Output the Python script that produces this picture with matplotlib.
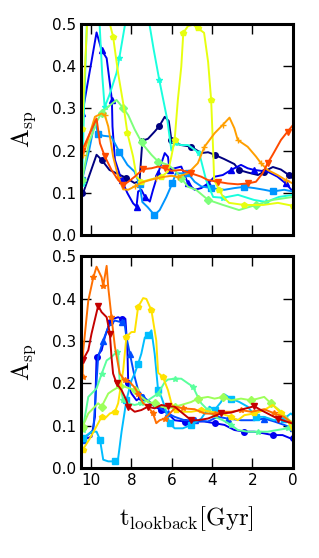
import matplotlib
matplotlib.use('Agg')
import matplotlib.pyplot as plt

plt.rcParams['mathtext.fontset'] = 'cm'

# ---- top panel data (lookback time in Gyr, A_sp) ----
top_t = [
    [10.45, 10.39, 9.73, 9.48, 9.09, 8.74, 8.25, 7.85, 7.6, 7.46, 7.18, 6.85, 6.62, 6.35, 6.15, 6.02, 5.86, 5.53, 5.04, 4.54, 4.2, 3.88, 3.41, 2.90, 2.67, 2.24, 1.73, 1.42, 0.99, 0.59, 0.2, 0.0],
    [10.45, 10.39, 9.73, 9.48, 9.23, 9.07, 8.97, 8.94, 8.82, 8.49, 8.20, 7.92, 7.75, 7.67, 7.51, 7.34, 7.09, 6.93, 6.68, 6.35, 6.19, 6.11, 5.86, 5.53, 5.20, 4.87, 4.54, 4.21, 3.88, 3.47, 3.06, 2.57, 2.24, 1.91, 1.25, 0.76, 0.35, 0.0],
    [10.45, 10.1, 9.81, 9.66, 9.4, 9.0, 8.6, 8.2, 7.85, 7.6, 7.46, 7.2, 6.86, 6.6, 6.27, 5.97, 5.8, 5.53, 5.2, 4.87, 4.54, 4.05, 3.39, 2.90, 2.40, 1.91, 1.42, 1.00, 0.43, 0.0],
    [10.45, 10.35, 10.2, 9.9, 9.58, 9.45, 9.33, 9.09, 8.74, 8.6, 8.35, 8.1, 7.6, 7.11, 6.9, 6.62, 6.22, 6.02, 5.86, 5.53, 5.19, 4.64, 4.3, 3.95, 3.46, 2.72, 1.93, 1.33, 0.69, 0.0],
    [10.45, 10.1, 9.7, 9.48, 9.0, 8.74, 8.4, 8.16, 7.84, 7.5, 7.34, 7.01, 6.68, 6.19, 5.86, 5.53, 5.19, 4.8, 4.2, 3.46, 2.67, 1.83, 0.99, 0.0],
    [10.45, 10.35, 10.2, 9.9, 9.4, 9.07, 8.91, 8.66, 8.41, 8.2, 7.92, 7.75, 7.51, 7.18, 6.85, 6.52, 6.19, 6.02, 5.86, 5.70, 5.53, 5.43, 5.2, 4.94, 4.7, 4.4, 4.2, 4.05, 3.95, 3.9, 3.65, 3.46, 3.16, 2.42, 1.48, 0.74, 0.0],
    [10.39, 9.81, 9.48, 9.32, 9.15, 8.91, 8.66, 8.41, 8.16, 7.84, 7.51, 7.09, 6.77, 6.35, 6.02, 5.70, 5.20, 4.71, 4.38, 4.13, 3.88, 3.47, 3.14, 2.90, 2.73, 2.24, 1.83, 1.58, 1.25, 0.76, 0.35, 0.0],
    [10.45, 9.73, 9.56, 9.32, 8.99, 8.66, 8.41, 8.16, 7.84, 7.42, 7.01, 6.68, 6.35, 6.02, 5.53, 5.04, 4.54, 4.21, 3.72, 3.23, 2.73, 2.24, 1.83, 1.50, 1.25, 1.00, 0.59, 0.26, 0.0],
]
top_a = [
    [0.10, 0.10, 0.19, 0.178, 0.154, 0.146, 0.135, 0.123, 0.128, 0.223, 0.228, 0.245, 0.258, 0.28, 0.27, 0.225, 0.218, 0.213, 0.209, 0.194, 0.196, 0.190, 0.18, 0.168, 0.154, 0.148, 0.142, 0.150, 0.161, 0.155, 0.142, 0.134],
    [0.29, 0.30, 0.48, 0.438, 0.419, 0.359, 0.32, 0.257, 0.178, 0.130, 0.099, 0.075, 0.067, 0.103, 0.107, 0.091, 0.079, 0.107, 0.146, 0.194, 0.185, 0.154, 0.158, 0.162, 0.122, 0.107, 0.111, 0.122, 0.138, 0.142, 0.154, 0.166, 0.158, 0.154, 0.150, 0.138, 0.122, 0.103],
    [0.13, 0.20, 0.27, 0.24, 0.235, 0.233, 0.197, 0.166, 0.15, 0.12, 0.078, 0.066, 0.047, 0.059, 0.09, 0.123, 0.146, 0.146, 0.146, 0.126, 0.115, 0.111, 0.107, 0.111, 0.114, 0.111, 0.107, 0.103, 0.107, 0.103],
    [0.12, 0.30, 0.52, 0.56, 0.50, 0.38, 0.303, 0.332, 0.384, 0.42, 0.49, 0.56, 0.60, 0.50, 0.44, 0.367, 0.272, 0.20, 0.217, 0.213, 0.213, 0.194, 0.13, 0.09, 0.088, 0.095, 0.083, 0.078, 0.09, 0.095],
    [0.13, 0.22, 0.27, 0.29, 0.31, 0.32, 0.30, 0.284, 0.25, 0.22, 0.209, 0.19, 0.174, 0.166, 0.154, 0.134, 0.114, 0.107, 0.083, 0.071, 0.059, 0.071, 0.083, 0.09],
    [0.25, 0.35, 0.50, 0.58, 0.58, 0.50, 0.47, 0.383, 0.312, 0.241, 0.186, 0.138, 0.126, 0.130, 0.134, 0.138, 0.150, 0.186, 0.225, 0.32, 0.399, 0.479, 0.495, 0.498, 0.49, 0.479, 0.41, 0.32, 0.2, 0.13, 0.107, 0.09, 0.076, 0.071, 0.071, 0.076, 0.069],
    [0.19, 0.28, 0.288, 0.284, 0.257, 0.186, 0.138, 0.108, 0.107, 0.115, 0.124, 0.13, 0.134, 0.138, 0.140, 0.138, 0.146, 0.170, 0.209, 0.225, 0.241, 0.261, 0.278, 0.253, 0.225, 0.209, 0.186, 0.170, 0.154, 0.142, 0.130, 0.122],
    [0.20, 0.276, 0.217, 0.186, 0.154, 0.13, 0.118, 0.126, 0.138, 0.156, 0.158, 0.162, 0.158, 0.152, 0.154, 0.146, 0.138, 0.130, 0.126, 0.122, 0.120, 0.122, 0.126, 0.146, 0.170, 0.19, 0.225, 0.245, 0.26],
]
top_cols = [0.0, 0.1, 0.27, 0.38, 0.5, 0.63, 0.74, 0.83]
top_marks = ['o', '^', 's', '*', 'D', 'p', '+', 'v']

# ---- bottom panel data ----
bot_t = [
    [10.42, 9.98, 9.81, 9.73, 9.48, 9.32, 9.07, 8.91, 8.66, 8.49, 8.30, 8.20, 8.16, 8.00, 7.75, 7.51, 7.18, 6.85, 6.52, 6.19, 5.86, 5.37, 4.87, 4.38, 3.88, 3.39, 2.90, 2.40, 1.91, 1.42, 1.00, 0.51, 0.10, 0.0],
    [10.42, 9.89, 9.65, 9.40, 9.15, 8.82, 8.49, 8.36, 8.25, 8.08, 7.84, 7.67, 7.42, 7.09, 6.68, 6.19, 5.86, 5.37, 4.87, 4.21, 3.72, 3.23, 2.57, 1.91, 1.42, 0.92, 0.43, 0.0],
    [10.42, 9.98, 9.73, 9.56, 9.40, 9.15, 8.82, 8.66, 8.49, 8.25, 8.00, 7.84, 7.67, 7.51, 7.34, 7.18, 7.01, 6.85, 6.68, 6.52, 6.35, 6.11, 5.86, 5.45, 5.04, 4.54, 4.13, 3.88, 3.56, 3.39, 3.06, 2.65, 2.24, 1.83, 1.42, 0.92, 0.43, 0.10, 0.0],
    [10.42, 10.14, 9.73, 9.48, 9.23, 8.99, 8.74, 8.66, 8.58, 8.41, 8.16, 7.84, 7.51, 7.18, 6.93, 6.68, 6.35, 6.19, 5.86, 5.53, 5.20, 4.95, 4.71, 4.54, 4.21, 3.88, 3.47, 3.06, 2.73, 2.24, 1.74, 1.25, 0.76, 0.26, 0.0],
    [10.42, 10.14, 9.65, 9.48, 9.15, 8.91, 8.58, 8.33, 8.08, 7.84, 7.51, 7.18, 6.85, 6.52, 6.19, 5.86, 5.53, 5.04, 4.71, 4.21, 3.88, 3.47, 3.06, 2.57, 2.07, 1.74, 1.42, 1.09, 0.67, 0.26, 0.0],
    [10.42, 10.06, 9.65, 9.48, 9.32, 9.07, 8.82, 8.66, 8.41, 8.25, 8.00, 7.84, 7.67, 7.42, 7.26, 7.01, 6.77, 6.68, 6.44, 6.19, 6.02, 5.78, 5.45, 5.04, 4.54, 4.05, 3.56, 3.06, 2.73, 2.40, 1.91, 1.42, 1.00, 0.59, 0.26, 0.0],
    [10.42, 10.39, 10.14, 9.89, 9.73, 9.48, 9.40, 9.23, 9.15, 8.99, 8.82, 8.58, 8.33, 8.08, 7.84, 7.67, 7.42, 7.18, 6.93, 6.77, 6.60, 6.35, 6.02, 5.78, 5.45, 4.87, 4.38, 3.88, 3.56, 3.06, 2.57, 2.07, 1.42, 0.92, 0.43, 0.0],
    [10.42, 10.14, 9.98, 9.65, 9.48, 9.23, 9.07, 8.99, 8.91, 8.74, 8.49, 8.25, 8.16, 7.84, 7.51, 7.18, 6.85, 6.52, 6.19, 5.86, 5.45, 5.04, 4.71, 4.21, 3.56, 3.06, 2.57, 1.91, 1.58, 1.09, 0.76, 0.26, 0.0],
]
bot_a = [
    [0.067, 0.074, 0.121, 0.262, 0.278, 0.309, 0.344, 0.352, 0.356, 0.352, 0.352, 0.278, 0.2, 0.176, 0.16, 0.168, 0.16, 0.145, 0.137, 0.129, 0.113, 0.11, 0.11, 0.11, 0.106, 0.102, 0.09, 0.086, 0.086, 0.082, 0.078, 0.078, 0.07, 0.07],
    [0.067, 0.09, 0.262, 0.301, 0.333, 0.348, 0.344, 0.348, 0.309, 0.27, 0.215, 0.184, 0.168, 0.153, 0.145, 0.129, 0.121, 0.113, 0.113, 0.110, 0.121, 0.117, 0.113, 0.113, 0.117, 0.11, 0.102, 0.094],
    [0.07, 0.086, 0.086, 0.067, 0.02, 0.016, 0.016, 0.023, 0.086, 0.16, 0.207, 0.223, 0.246, 0.27, 0.308, 0.313, 0.325, 0.27, 0.184, 0.168, 0.145, 0.106, 0.094, 0.094, 0.102, 0.117, 0.145, 0.137, 0.156, 0.174, 0.164, 0.156, 0.145, 0.121, 0.121, 0.113, 0.117, 0.129, 0.125],
    [0.09, 0.168, 0.188, 0.222, 0.254, 0.262, 0.274, 0.27, 0.2, 0.16, 0.153, 0.149, 0.153, 0.16, 0.168, 0.176, 0.203, 0.209, 0.211, 0.211, 0.2, 0.192, 0.168, 0.153, 0.137, 0.121, 0.113, 0.102, 0.09, 0.086, 0.086, 0.086, 0.09, 0.094, 0.098],
    [0.098, 0.129, 0.153, 0.145, 0.176, 0.184, 0.193, 0.192, 0.188, 0.184, 0.168, 0.156, 0.153, 0.145, 0.141, 0.145, 0.149, 0.156, 0.164, 0.168, 0.164, 0.168, 0.16, 0.164, 0.16, 0.164, 0.168, 0.153, 0.137, 0.117, 0.106],
    [0.043, 0.07, 0.106, 0.121, 0.117, 0.129, 0.133, 0.153, 0.231, 0.31, 0.321, 0.321, 0.38, 0.401, 0.399, 0.372, 0.301, 0.225, 0.215, 0.184, 0.153, 0.137, 0.133, 0.133, 0.137, 0.133, 0.129, 0.121, 0.113, 0.125, 0.129, 0.137, 0.149, 0.13, 0.113, 0.086],
    [0.215, 0.278, 0.395, 0.45, 0.475, 0.45, 0.43, 0.477, 0.426, 0.356, 0.286, 0.223, 0.207, 0.203, 0.19, 0.176, 0.153, 0.145, 0.129, 0.106, 0.113, 0.117, 0.133, 0.145, 0.141, 0.139, 0.129, 0.128, 0.133, 0.133, 0.137, 0.133, 0.139, 0.129, 0.121, 0.105],
    [0.254, 0.278, 0.317, 0.383, 0.368, 0.356, 0.317, 0.262, 0.223, 0.2, 0.184, 0.16, 0.145, 0.133, 0.137, 0.145, 0.141, 0.149, 0.146, 0.145, 0.129, 0.113, 0.113, 0.117, 0.129, 0.131, 0.138, 0.146, 0.137, 0.125, 0.117, 0.109, 0.105],
]
bot_cols = [0.1, 0.2, 0.31, 0.46, 0.54, 0.67, 0.79, 0.94]
bot_marks = ['o', '^', 's', '*', 'D', 'p', '*', 'v']

y_ticks = [0.0, 0.1, 0.2, 0.3, 0.4, 0.5]
x_ticks = [10, 8, 6, 4, 2, 0]


def style_axes(ax):
    ax.set_xlim(10.5, 0)
    ax.set_ylim(0, 0.5)
    ax.set_xticks(x_ticks)
    ax.set_yticks(y_ticks)
    ax.tick_params(direction='in', length=7, width=1, top=True, right=True, labelsize=11)
    for sp in ax.spines.values():
        sp.set_linewidth(2.2)
    ax.set_ylabel(r'$\mathrm{A_{sp}}$', fontsize=18, labelpad=10)


def draw_panel(ax, ts, As, cols, marks):
    cmap = plt.get_cmap('jet')
    for i in range(len(ts)):
        c = cmap(cols[i])
        ax.plot(ts[i], As[i], color=c, lw=1.4, marker=marks[i], ms=4,
                mec=c, mfc=c, markevery=3, clip_on=True)


fig = plt.figure(figsize=(3.19, 5.58), dpi=100)
ax1 = fig.add_axes([0.254, 0.579, 0.664, 0.378])
ax2 = fig.add_axes([0.254, 0.161, 0.664, 0.380])

draw_panel(ax1, top_t, top_a, top_cols, top_marks)
draw_panel(ax2, bot_t, bot_a, bot_cols, bot_marks)

style_axes(ax1)
style_axes(ax2)
ax1.set_xticklabels([])
ax2.set_xticklabels(['10', '8', '6', '4', '2', '0'])
ax2.set_xlabel(r'$\mathrm{t_{lookback}[Gyr]}$', fontsize=18, labelpad=12)

fig.savefig('out.png', dpi=100)
